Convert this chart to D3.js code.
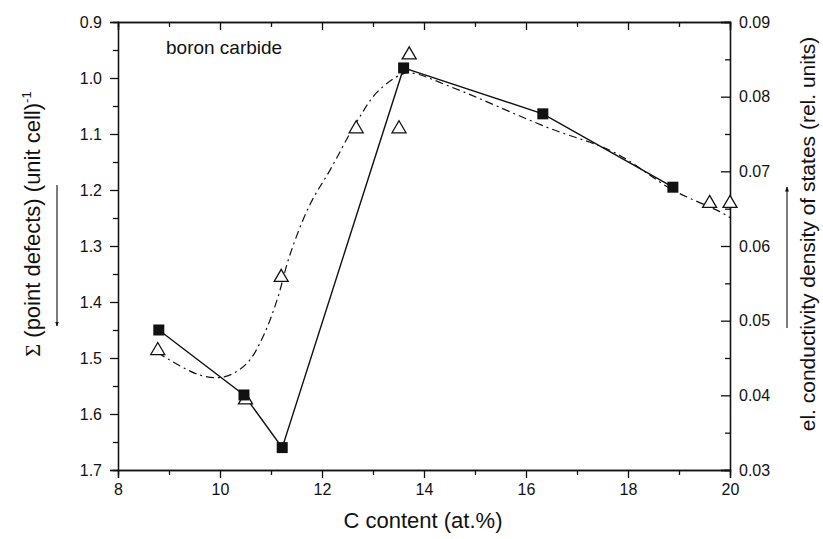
<!DOCTYPE html>
<html><head><meta charset="utf-8">
<script src="https://cdn.jsdelivr.net/npm/d3@7"></script>
<style>body{margin:0;background:#fff}text{font-family:Arial,"Liberation Sans",sans-serif;fill:#111}</style>
</head><body><svg id="c" width="823" height="539"></svg>
<script>
// Squares: Σ(point defects) per unit cell (left axis)
const sqX = [8.8, 10.47, 11.22, 13.6, 16.33, 18.88];
const sqY = [1.45, 1.566, 1.66, 0.982, 1.064, 1.195];
// Triangles: el. conductivity density of states (right axis)
const triX = [8.78, 10.5, 11.2, 12.67, 13.51, 13.71, 19.6, 20.0];
const triY = [0.0462, 0.0396, 0.056, 0.0759, 0.0759, 0.0858, 0.0659, 0.0659];
// Dash-dot fitted curve (right axis)
const fitX = [8.78, 9.61, 10.1, 10.53, 10.84, 11.12, 11.37, 11.76, 12.16, 12.67, 13.08, 13.53, 13.73, 14.57, 16.41, 17.71, 18.88, 19.8, 20.0];
const fitY = [0.0457, 0.0427, 0.0425, 0.0443, 0.0478, 0.0528, 0.0588, 0.0655, 0.0702, 0.0765, 0.0806, 0.0829, 0.0832, 0.0812, 0.0759, 0.0726, 0.0675, 0.0646, 0.0638];
const xTicks = [8, 10, 12, 14, 16, 18, 20];
const leftTicks = [0.9, 1.0, 1.1, 1.2, 1.3, 1.4, 1.5, 1.6, 1.7];
const rightTicks = [0.03, 0.04, 0.05, 0.06, 0.07, 0.08, 0.09];

const svg = d3.select("#c");
const L = 118, R = 730, T = 22, B = 470;
const x = d3.scaleLinear().domain([8, 20]).range([L, R]);
const yL = d3.scaleLinear().domain([0.9, 1.7]).range([T, B]);
const yR = d3.scaleLinear().domain([0.03, 0.09]).range([B, T]);

const g = svg.append("g");
const xMinor = d3.range(9, 20, 2);
const lMinor = d3.range(0.95, 1.7, 0.1);
const rMinor = d3.range(0.035, 0.09, 0.01);

function axisStyle(sel){ sel.selectAll("path,line").attr("stroke","#111").attr("stroke-width",1.3); sel.selectAll("text").attr("font-size",16).style("font-family","Arial, 'Liberation Sans', sans-serif"); }

// bottom
g.append("g").attr("transform",`translate(0,${B})`).call(d3.axisBottom(x).tickValues(xTicks).tickFormat(d3.format("d")).tickSizeOuter(0).tickSize(8).tickPadding(6)).call(axisStyle);
g.append("g").attr("transform",`translate(0,${B})`).call(d3.axisBottom(x).tickValues(xMinor).tickFormat("").tickSizeOuter(0).tickSize(5)).call(axisStyle);
// top
g.append("g").attr("transform",`translate(0,${T})`).call(d3.axisBottom(x).tickValues(xTicks).tickFormat("").tickSizeOuter(0).tickSize(8)).call(axisStyle);
g.append("g").attr("transform",`translate(0,${T})`).call(d3.axisBottom(x).tickValues(xMinor).tickFormat("").tickSizeOuter(0).tickSize(5)).call(axisStyle);
// left
g.append("g").attr("transform",`translate(${L},0)`).call(d3.axisLeft(yL).tickValues(leftTicks).tickFormat(d3.format(".1f")).tickSizeOuter(0).tickSize(8).tickPadding(8)).call(axisStyle);
g.append("g").attr("transform",`translate(${L},0)`).call(d3.axisLeft(yL).tickValues(lMinor).tickFormat("").tickSizeOuter(0).tickSize(5)).call(axisStyle);
// right (inward ticks, labels outside)
const ra = g.append("g").attr("transform",`translate(${R},0)`).call(d3.axisLeft(yR).tickValues(rightTicks).tickFormat(d3.format(".2f")).tickSizeOuter(0).tickSize(9)).call(axisStyle);
ra.selectAll("text").attr("text-anchor","start").attr("x",9);
g.append("g").attr("transform",`translate(${R},0)`).call(d3.axisLeft(yR).tickValues(rMinor).tickFormat("").tickSizeOuter(0).tickSize(5)).call(axisStyle);

// fitted dash-dot curve
svg.append("path").datum(fitX.map((v,i)=>[v,fitY[i]]))
  .attr("d", d3.line().x(d=>x(d[0])).y(d=>yR(d[1])).curve(d3.curveCatmullRom))
  .attr("fill","none").attr("stroke","#111").attr("stroke-width",1.2).attr("stroke-dasharray","8,4,2,4");

// solid line through squares
svg.append("path").datum(sqX.map((v,i)=>[v,sqY[i]]))
  .attr("d", d3.line().x(d=>x(d[0])).y(d=>yL(d[1])))
  .attr("fill","none").attr("stroke","#111").attr("stroke-width",1.4);

// triangles
svg.selectAll(".tri").data(triX.map((v,i)=>[v,triY[i]])).enter().append("path")
  .attr("transform", d=>`translate(${x(d[0])},${yR(d[1])})`)
  .attr("d","M0,-6.5L7,5.5L-7,5.5Z").attr("fill","#fff").attr("stroke","#111").attr("stroke-width",1.3);

// squares
svg.selectAll(".sq").data(sqX.map((v,i)=>[v,sqY[i]])).enter().append("rect")
  .attr("x", d=>x(d[0])-5.5).attr("y", d=>yL(d[1])-5.5).attr("width",11).attr("height",11).attr("fill","#111");

// texts
svg.append("text").attr("x",166).attr("y",54).attr("font-size",19).text("boron carbide");
svg.append("text").attr("x",(L+R)/2 - 1).attr("y",528).attr("text-anchor","middle").attr("font-size",22).text("C content (at.%)");
const lt = svg.append("text").attr("transform","translate(40,224) rotate(-90)").attr("text-anchor","middle").attr("font-size",22);
lt.append("tspan").style("font-family","'Liberation Serif','DejaVu Serif',serif").text("Σ");
lt.append("tspan").text(" (point defects) (unit cell)");
lt.append("tspan").attr("dy",-9).attr("font-size",13).text("-1");
svg.append("text").attr("transform","translate(815,234) rotate(-90)").attr("text-anchor","middle").attr("font-size",21).text("el. conductivity density of states (rel. units)");

// arrows
svg.append("defs").append("marker").attr("id","ah").attr("viewBox","0 0 10 10").attr("refX",9).attr("refY",5)
  .attr("markerWidth",5).attr("markerHeight",8).attr("orient","auto").attr("markerUnits","userSpaceOnUse")
  .append("path").attr("d","M0,1L10,5L0,9Z").attr("fill","#111");
svg.append("line").attr("x1",57).attr("y1",185).attr("x2",57).attr("y2",326).attr("stroke","#111").attr("stroke-width",1.1).attr("marker-end","url(#ah)");
svg.append("line").attr("x1",787).attr("y1",328).attr("x2",787).attr("y2",187).attr("stroke","#111").attr("stroke-width",1.1).attr("marker-end","url(#ah)");
</script></body></html>
